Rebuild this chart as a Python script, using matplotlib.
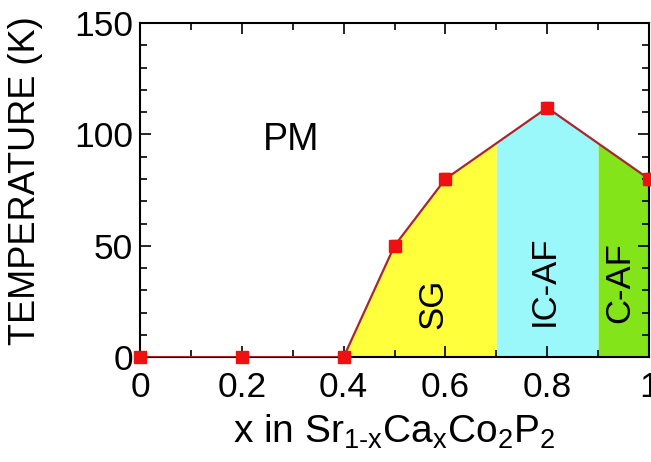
import numpy as np
import matplotlib.pyplot as plt
from matplotlib.ticker import MultipleLocator

# Phase boundary data for Sr(1-x)Ca(x)Co2P2
x_vals = np.array([0.0, 0.2, 0.4, 0.5, 0.6, 0.8, 1.0])
t_vals = np.array([0.0, 0.0, 0.0, 50.0, 80.0, 112.0, 80.0])
t_err = np.array([2.0, 2.0, 2.0, 2.5, 2.5, 2.5, 2.5])

# Phase region boundaries in x
region_edges = [0.4, 0.7, 0.9, 1.0]
region_colors = ["#ffff3c", "#9af8fb", "#84e41a"]
region_labels = ["SG", "IC-AF", "C-AF"]
label_pos = [(0.576, 24), (0.794, 34.5), (0.943, 33.5)]

plt.rcParams["font.family"] = ["Liberation Sans", "DejaVu Sans"]
plt.rcParams["mathtext.fontset"] = "custom"
plt.rcParams["mathtext.rm"] = "Liberation Sans"

fig = plt.figure(figsize=(6.51, 4.62), dpi=100)
ax = fig.add_axes([0.215, 0.227, 0.782, 0.723])

# Fill the ordered phases under the transition line
for i in range(3):
    xs = np.linspace(region_edges[i], region_edges[i + 1], 200)
    ys = np.interp(xs, x_vals, t_vals)
    ax.fill_between(xs, 0, ys, color=region_colors[i], lw=0, zorder=1)

ax.plot(x_vals, t_vals, color="#a8262c", lw=1.6, zorder=3)
ax.errorbar(x_vals, t_vals, yerr=t_err, fmt="s", color="#ee1111",
            ms=8, capsize=3, elinewidth=1.5, zorder=4, clip_on=False)

ax.text(0.297, 97.5, "PM", fontsize=27, ha="center", va="center")
for lab, (px, py) in zip(region_labels, label_pos):
    ax.text(px, py, lab, fontsize=25, rotation=90, ha="center", va="center",
            zorder=5)

ax.set_xlim(0, 1)
ax.set_ylim(0, 150)
ax.xaxis.set_minor_locator(MultipleLocator(0.1))
ax.yaxis.set_major_locator(MultipleLocator(50))
ax.yaxis.set_minor_locator(MultipleLocator(10))
ax.set_xticks([0, 0.2, 0.4, 0.6, 0.8, 1.0])
ax.set_xticklabels(["0", "0.2", "0.4", "0.6", "0.8", "1"])
ax.tick_params(which="both", direction="in", top=True, right=True,
               labelsize=25.5, width=1.2)
ax.tick_params(which="major", length=8)
ax.tick_params(which="minor", length=5)
ax.tick_params(axis="x", pad=10)
ax.tick_params(axis="y", pad=5)
for s in ax.spines.values():
    s.set_linewidth(1.5)

ax.set_xlabel(r"x in Sr$_{\mathregular{1\text{-}x}}$Ca$_{\mathregular{x}}$Co$_{\mathregular{2}}$P$_{\mathregular{2}}$",
              fontsize=28)
ax.set_ylabel("TEMPERATURE (K)", fontsize=26)
ax.xaxis.set_label_coords(0.5, -0.165)
ax.yaxis.set_label_coords(-0.19, 0.527)

fig.savefig("out.png", dpi=100)
